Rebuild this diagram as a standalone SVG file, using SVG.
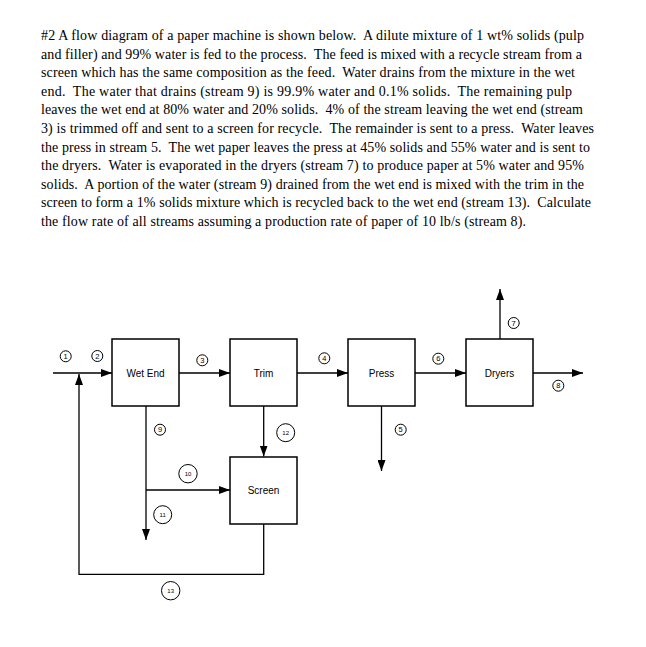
<svg xmlns="http://www.w3.org/2000/svg" width="646" height="647" viewBox="0 0 646 647">
<style>
.p{font-family:"Liberation Serif","Times New Roman",serif;font-size:14px;fill:#000;white-space:pre}
.box{fill:#fff;stroke:#000;stroke-width:1.5}
.lbl{font-family:"Liberation Sans",Arial,sans-serif;font-size:10px;fill:#000;text-anchor:middle}
.ln{fill:none;stroke:#000;stroke-width:1.3}
.c{fill:#fff;stroke:#000;stroke-width:1}
.n{font-family:"Liberation Sans",Arial,sans-serif;font-size:7.5px;fill:#000;text-anchor:middle}
.s{font-family:"Liberation Sans",Arial,sans-serif;font-size:6px;fill:#000;text-anchor:middle}
</style>
<defs>
<marker id="ah" markerUnits="userSpaceOnUse" markerWidth="11" markerHeight="8" refX="11" refY="4" orient="auto">
<path d="M0,0 L11,4 L0,8 z" fill="#000"/>
</marker>
</defs>
<rect width="646" height="647" fill="#fff"/>
<g id="problem-text">
<text class="p" x="41" y="40" textLength="543" lengthAdjust="spacing">#2 A flow diagram of a paper machine is shown below.  A dilute mixture of 1 wt% solids (pulp</text>
<text class="p" x="41" y="58.6" textLength="541" lengthAdjust="spacing">and filler) and 99% water is fed to the process.  The feed is mixed with a recycle stream from a</text>
<text class="p" x="41" y="77.2" textLength="534" lengthAdjust="spacing">screen which has the same composition as the feed.  Water drains from the mixture in the wet</text>
<text class="p" x="41" y="95.8" textLength="531" lengthAdjust="spacing">end.  The water that drains (stream 9) is 99.9% water and 0.1% solids.  The remaining pulp</text>
<text class="p" x="41" y="114.4" textLength="542" lengthAdjust="spacing">leaves the wet end at 80% water and 20% solids.  4% of the stream leaving the wet end (stream</text>
<text class="p" x="41" y="133" textLength="553" lengthAdjust="spacing">3) is trimmed off and sent to a screen for recycle.  The remainder is sent to a press.  Water leaves</text>
<text class="p" x="41" y="151.6" textLength="549" lengthAdjust="spacing">the press in stream 5.  The wet paper leaves the press at 45% solids and 55% water and is sent to</text>
<text class="p" x="41" y="170.2" textLength="543" lengthAdjust="spacing">the dryers.  Water is evaporated in the dryers (stream 7) to produce paper at 5% water and 95%</text>
<text class="p" x="41" y="188.8" textLength="543" lengthAdjust="spacing">solids.  A portion of the water (stream 9) drained from the wet end is mixed with the trim in the</text>
<text class="p" x="41" y="207.4" textLength="550" lengthAdjust="spacing">screen to form a 1% solids mixture which is recycled back to the wet end (stream 13).  Calculate</text>
<text class="p" x="41" y="226" textLength="485" lengthAdjust="spacing">the flow rate of all streams assuming a production rate of paper of 10 lb/s (stream 8).</text>
</g>
<g id="connectors">
<line class="ln" x1="53" y1="373" x2="112" y2="373" marker-end="url(#ah)"/>
<line class="ln" x1="179" y1="373" x2="230" y2="373" marker-end="url(#ah)"/>
<line class="ln" x1="297" y1="373" x2="348" y2="373" marker-end="url(#ah)"/>
<line class="ln" x1="415" y1="373" x2="466" y2="373" marker-end="url(#ah)"/>
<line class="ln" x1="533" y1="373" x2="583" y2="373" marker-end="url(#ah)"/>
<line class="ln" x1="500" y1="339" x2="500" y2="289" marker-end="url(#ah)"/>
<line class="ln" x1="381.5" y1="406" x2="381.5" y2="471" marker-end="url(#ah)"/>
<line class="ln" x1="263.7" y1="406" x2="263.7" y2="456.5" marker-end="url(#ah)"/>
<line class="ln" x1="146" y1="406" x2="146" y2="540" marker-end="url(#ah)"/>
<line class="ln" x1="146" y1="490" x2="230" y2="490" marker-end="url(#ah)"/>
<polyline class="ln" points="263.7,524 263.7,574.3 79,574.3 79,374" marker-end="url(#ah)"/>
</g>
<g id="wet-end"><rect class="box" x="112" y="339" width="67" height="67"/><text class="lbl" x="145.5" y="376.5">Wet End</text></g>
<g id="trim"><rect class="box" x="230" y="339" width="67" height="67"/><text class="lbl" x="263.5" y="376.5">Trim</text></g>
<g id="press"><rect class="box" x="348" y="339" width="67" height="67"/><text class="lbl" x="381.5" y="376.5">Press</text></g>
<g id="dryers"><rect class="box" x="466" y="339" width="67" height="67"/><text class="lbl" x="499.5" y="376.5">Dryers</text></g>
<g id="screen"><rect class="box" x="230" y="457" width="67" height="67"/><text class="lbl" x="263.5" y="494">Screen</text></g>
<g id="stream-labels">
<g id="s1"><circle class="c" cx="65.7" cy="356.3" r="5.5"/><text class="n" x="65.7" y="359">1</text></g>
<g id="s2"><circle class="c" cx="97.3" cy="356" r="5.5"/><text class="n" x="97.3" y="358.7">2</text></g>
<g id="s3"><circle class="c" cx="202.3" cy="360.3" r="5.5"/><text class="n" x="202.3" y="363">3</text></g>
<g id="s4"><circle class="c" cx="324.3" cy="358.3" r="5.5"/><text class="n" x="324.3" y="361">4</text></g>
<g id="s5"><circle class="c" cx="400.7" cy="429.7" r="5.5"/><text class="n" x="400.7" y="432.4">5</text></g>
<g id="s6"><circle class="c" cx="438.3" cy="358.7" r="5.5"/><text class="n" x="438.3" y="361.4">6</text></g>
<g id="s7"><circle class="c" cx="513.7" cy="323" r="5.5"/><text class="n" x="513.7" y="325.7">7</text></g>
<g id="s8"><circle class="c" cx="558.3" cy="385.7" r="5.5"/><text class="n" x="558.3" y="388.4">8</text></g>
<g id="s9"><circle class="c" cx="160" cy="429.7" r="5.5"/><text class="n" x="160" y="432.4">9</text></g>
<g id="s10"><circle class="c" cx="188" cy="473.7" r="9.2"/><text class="s" x="188" y="475.8">10</text></g>
<g id="s11"><circle class="c" cx="162.7" cy="514.7" r="9"/><text class="s" x="162.7" y="516.8">11</text></g>
<g id="s12"><circle class="c" cx="285.7" cy="432.7" r="9"/><text class="s" x="285.7" y="434.8">12</text></g>
<g id="s13"><circle class="c" cx="170.7" cy="590.7" r="9.2"/><text class="s" x="170.7" y="592.8">13</text></g>
</g>
</svg>
